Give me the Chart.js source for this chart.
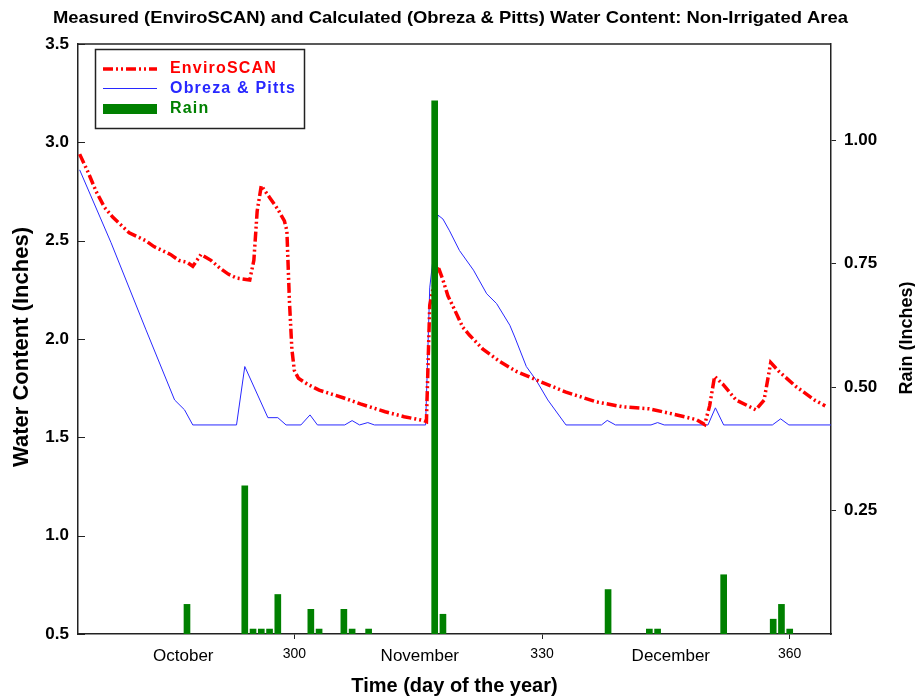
<!DOCTYPE html>
<html><head><meta charset="utf-8">
<script src="https://cdn.jsdelivr.net/npm/chart.js@4.4.1/dist/chart.umd.min.js"></script>
<style>html,body{margin:0;padding:0;background:#fff;}#wrap{width:915px;height:698px;position:relative;}</style>
</head><body><div id="wrap"><canvas id="c" width="915" height="698"></canvas></div>
<script>
const chartTitle = 'Measured (EnviroSCAN) and Calculated (Obreza & Pitts) Water Content: Non-Irrigated Area';
const leftAxisTitle = 'Water Content (Inches)';
const rightAxisTitle = 'Rain (Inches)';
const xAxisTitle = 'Time (day of the year)';
const seriesNames = ['EnviroSCAN', 'Obreza & Pitts', 'Rain'];

const envDays = [274, 275, 276, 277, 278, 279, 280, 281, 282, 283, 284, 285, 286, 287, 287.7, 288.7, 289.9, 291, 292, 293, 294.6, 295.1, 295.5, 296.0, 297.0, 298.0, 298.8, 299.1, 299.4, 299.7, 300.0, 300.5, 301.6, 303, 304.5, 306, 308, 309.5, 311, 313.3, 315.7, 316.0, 316.4, 317.0, 317.4, 318, 318.6, 319.4, 320.4, 321.2, 322.8, 324.9, 326.9, 329.7, 332.9, 336.6, 339.8, 343, 346.2, 348.7, 349.7, 350.3, 350.9, 351.9, 353.5, 355.9, 356.9, 357.7, 358.7, 360.7, 363, 364.3];
const envValues = [2.94, 2.85, 2.75, 2.67, 2.62, 2.58, 2.54, 2.52, 2.50, 2.47, 2.45, 2.43, 2.40, 2.39, 2.37, 2.43, 2.40, 2.36, 2.33, 2.31, 2.30, 2.40, 2.65, 2.78, 2.72, 2.66, 2.60, 2.55, 2.20, 1.95, 1.84, 1.80, 1.77, 1.74, 1.72, 1.70, 1.67, 1.65, 1.63, 1.605, 1.585, 1.58, 2.17, 2.30, 2.37, 2.30, 2.22, 2.15, 2.06, 2.02, 1.95, 1.885, 1.835, 1.785, 1.73, 1.68, 1.655, 1.645, 1.615, 1.59, 1.565, 1.66, 1.81, 1.77, 1.69, 1.64, 1.69, 1.88, 1.835, 1.76, 1.69, 1.66];

const obDays = [274, 277.8, 282.0, 285.5, 286.7, 287.7, 293.0, 294.0, 296.8, 298.0, 299.0, 300.8, 301.9, 302.8, 306.1, 307.0, 307.9, 308.9, 309.7, 315.9, 316.4, 317.4, 318, 318.8, 320, 321.7, 323.3, 324.5, 326.1, 326.7, 328.1, 329.3, 330.7, 332.9, 337.2, 337.9, 338.9, 343.2, 344.0, 344.8, 350.1, 351.0, 352.0, 357.9, 358.9, 359.9, 365];
const obValues = [2.86, 2.49, 2.05, 1.69, 1.64, 1.563, 1.563, 1.86, 1.60, 1.60, 1.563, 1.563, 1.614, 1.563, 1.563, 1.585, 1.563, 1.575, 1.563, 1.563, 2.26, 2.63, 2.61, 2.55, 2.45, 2.35, 2.23, 2.18, 2.07, 2.01, 1.86, 1.79, 1.69, 1.563, 1.563, 1.586, 1.563, 1.563, 1.575, 1.563, 1.563, 1.65, 1.563, 1.563, 1.594, 1.563, 1.563];

const rainDays = [287, 294, 295, 296, 297, 298, 302, 303, 306, 307, 309, 317, 318, 338, 343, 344, 352, 358, 359, 360];
const rainValues = [0.06, 0.30, 0.01, 0.01, 0.01, 0.08, 0.05, 0.01, 0.05, 0.01, 0.01, 1.08, 0.04, 0.09, 0.01, 0.01, 0.12, 0.03, 0.06, 0.01];

const xTickValues = [286.55, 300, 315.2, 330, 345.6, 360];
const xTickLabels = ['October', '300', 'November', '330', 'December', '360'];
const xMonthLabels = ['October', 'November', 'December'];
const leftTickValues = [0.5, 1.0, 1.5, 2.0, 2.5, 3.0, 3.5];
const rightTickValues = [0.25, 0.5, 0.75, 1.0];

const FONT = "'Liberation Sans', Arial, Helvetica, sans-serif";
const RED = '#ff0000', BLUE = '#2828ff', GREEN = '#008000', AXIS = '#222';
const RED_DASH = [10, 3, 2, 3, 2, 3];

const toPoints = (xs, ys) => xs.map((x, i) => ({x: x, y: ys[i]}));
const isMonth = ctx => !!(ctx.tick && xMonthLabels.includes(xTickLabels[ctx.index]));

const decor = {
  id: 'decor',
  afterDraw(chart) {
    const {ctx, chartArea: a, scales} = chart;
    ctx.save();
    // top frame line
    ctx.strokeStyle = AXIS; ctx.lineWidth = 1.5;
    ctx.beginPath(); ctx.moveTo(a.left, a.top); ctx.lineTo(a.right, a.top); ctx.stroke();
    // inward ticks on left axis
    ctx.lineWidth = 1;
    scales.y.ticks.forEach(t => {
      const y = Math.round(scales.y.getPixelForValue(t.value)) + 0.5;
      ctx.beginPath(); ctx.moveTo(a.left, y); ctx.lineTo(a.left + 7, y); ctx.stroke();
    });
    // main title
    ctx.fillStyle = '#000';
    ctx.font = "bold 17px 'Liberation Sans Narrow', " + FONT;
    ctx.textBaseline = 'middle'; ctx.textAlign = 'left';
    const tw = ctx.measureText(chartTitle).width;
    ctx.save();
    ctx.translate(53, 18);
    ctx.scale(795 / tw, 1);
    ctx.fillText(chartTitle, 0, 0);
    ctx.restore();
    // left axis title
    ctx.save();
    ctx.translate(22, 347);
    ctx.rotate(-Math.PI / 2);
    ctx.font = 'bold 22px ' + FONT;
    ctx.textAlign = 'center'; ctx.textBaseline = 'middle';
    ctx.fillText(leftAxisTitle, 0, 0);
    ctx.restore();
    // right axis title, reading upward
    ctx.save();
    ctx.translate(907, 338);
    ctx.rotate(-Math.PI / 2);
    ctx.font = 'bold 18px ' + FONT;
    ctx.textAlign = 'center'; ctx.textBaseline = 'middle';
    ctx.fillText(rightAxisTitle, 0, 0);
    ctx.restore();
    // legend
    ctx.lineWidth = 1.5; ctx.strokeStyle = AXIS;
    ctx.strokeRect(95.5, 49.5, 209, 79);
    ctx.strokeStyle = RED; ctx.lineWidth = 3.5; ctx.setLineDash(RED_DASH);
    ctx.beginPath(); ctx.moveTo(103, 69); ctx.lineTo(157, 69); ctx.stroke();
    ctx.setLineDash([]);
    ctx.strokeStyle = BLUE; ctx.lineWidth = 1;
    ctx.beginPath(); ctx.moveTo(103, 88.5); ctx.lineTo(157, 88.5); ctx.stroke();
    ctx.fillStyle = GREEN; ctx.fillRect(103, 104, 54, 10);
    ctx.font = 'bold 16px ' + FONT; ctx.textAlign = 'left'; ctx.textBaseline = 'middle';
    try { ctx.letterSpacing = '1.2px'; } catch (e) {}
    const cols = [RED, BLUE, GREEN], ys = [69, 88.5, 109];
    seriesNames.forEach((n, i) => { ctx.fillStyle = cols[i]; ctx.fillText(n, 170, ys[i]); });
    try { ctx.letterSpacing = '0px'; } catch (e) {}
    ctx.restore();
  }
};

new Chart(document.getElementById('c'), {
  type: 'line',
  data: {
    datasets: [
      {
        type: 'bar', label: seriesNames[2], data: toPoints(rainDays, rainValues),
        yAxisID: 'y2', xAxisID: 'x', backgroundColor: GREEN, borderWidth: 0,
        barThickness: 6, order: 0
      },
      {
        type: 'line', label: seriesNames[0], data: toPoints(envDays, envValues),
        yAxisID: 'y', xAxisID: 'x', borderColor: RED, borderWidth: 3.5,
        borderDash: RED_DASH, pointRadius: 0, tension: 0, fill: false, order: 1
      },
      {
        type: 'line', label: seriesNames[1], data: toPoints(obDays, obValues),
        yAxisID: 'y', xAxisID: 'x', borderColor: BLUE, borderWidth: 1,
        pointRadius: 0, tension: 0, fill: false, order: 2
      }
    ]
  },
  options: {
    responsive: false, animation: false, devicePixelRatio: 1,
    layout: {padding: {top: 44, left: 0, right: 0, bottom: 0}},
    plugins: {legend: {display: false}, title: {display: false}, tooltip: {enabled: false}},
    scales: {
      x: {
        type: 'linear', position: 'bottom', min: 273.8, max: 365,
        offset: false,
        grid: {offset: false, drawOnChartArea: false, drawTicks: true, tickLength: 5,
               tickColor: ctx => isMonth(ctx) ? 'rgba(0,0,0,0)' : AXIS},
        border: {color: AXIS, width: 1.5},
        afterBuildTicks: s => { s.ticks = xTickValues.map(v => ({value: v})); },
        ticks: {
          autoSkip: false, maxRotation: 0, padding: 7, color: '#000',
          font: ctx => isMonth(ctx) ? {family: FONT, size: 17} : {family: FONT, size: 14},
          callback: (v, i) => xTickLabels[i]
        },
        title: {display: true, text: xAxisTitle, color: '#000', font: {family: FONT, size: 20, weight: 'bold'}, padding: {top: 0, bottom: 0}},
        afterFit: s => { s.height = 64; }
      },
      y: {
        type: 'linear', position: 'left', min: 0.5, max: 3.5,
        grid: {drawOnChartArea: false, drawTicks: false},
        border: {color: AXIS, width: 1.5},
        afterBuildTicks: s => { s.ticks = leftTickValues.map(v => ({value: v})); },
        ticks: {padding: 9, color: '#000', font: {family: FONT, size: 17, weight: 'bold'}, callback: v => v.toFixed(1)},
        afterFit: s => { s.width = 78; }
      },
      y2: {
        type: 'linear', position: 'right', min: 0, max: 1.195,
        grid: {drawOnChartArea: false, drawTicks: true, tickLength: 5, tickColor: AXIS},
        border: {color: AXIS, width: 1.5},
        afterBuildTicks: s => { s.ticks = rightTickValues.map(v => ({value: v})); },
        ticks: {padding: 8, color: '#000', font: {family: FONT, size: 17, weight: 'bold'}, callback: v => v.toFixed(2)},
        afterFit: s => { s.width = 84; }
      }
    }
  },
  plugins: [decor]
});
</script></body></html>
